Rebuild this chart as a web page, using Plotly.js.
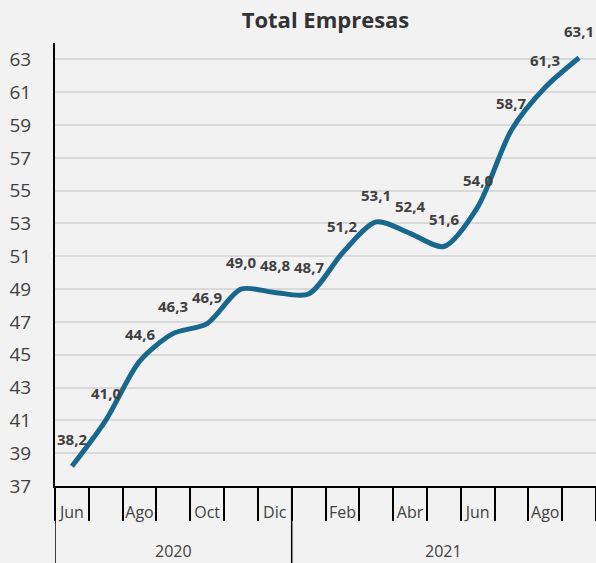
<!DOCTYPE html>
<html>
<head>
<meta charset="utf-8">
<script src="https://cdn.plot.ly/plotly-3.0.1.min.js"></script>
<style>html,body{margin:0;padding:0;background:#f2f2f2;}#chart{width:596px;height:563px;}</style>
</head>
<body>
<div id="chart"></div>
<script>
const months = ["Jun","Jul","Ago","Sep","Oct","Nov","Dic","Ene","Feb","Mar","Abr","May","Jun","Jul","Ago","Sep"];
const years = ["2020","2021"];
const monthsPerYear = [7, 9];
const values = [38.2, 41.0, 44.6, 46.3, 46.9, 49.0, 48.8, 48.7, 51.2, 53.1, 52.4, 51.6, 54.0, 58.7, 61.3, 63.1];
const yTicks = [37,39,41,43,45,47,49,51,53,55,57,59,61,63];

const idx = values.map((_, i) => i);
const fmt = v => v.toFixed(1).replace('.', ',');
const font = '"Open Sans", "Noto Sans", sans-serif';
const textColor = '#404040';

const boundaries = [];
for (let i = 0; i <= months.length; i++) boundaries.push(i - 0.5);

const labelIdx = idx.filter(i => i % 2 === 0);

const annotations = values.map((v, i) => ({
  x: i, y: v, xref: 'x', yref: 'y', text: '<b>' + fmt(v) + '</b>',
  showarrow: false, yshift: 27, font: {family: font, size: 15, color: textColor}
}));

const shapes = [];
let start = -0.5;
years.forEach((yr, k) => {
  const end = start + monthsPerYear[k];
  annotations.push({
    x: (start + end) / 2, y: 0, xref: 'x', yref: 'paper', yshift: -65, yanchor: 'middle',
    text: yr, showarrow: false, font: {family: font, size: 16, color: textColor}
  });
  shapes.push({type: 'line', xref: 'x', yref: 'paper', x0: start, x1: start, y0: 0, y1: -0.2,
    line: {color: '#000', width: 1.5}});
  start = end;
});

const trace = {
  x: idx, y: values, type: 'scatter', mode: 'lines',
  line: {color: '#17688c', width: 5, shape: 'spline', smoothing: 0.8},
  hoverinfo: 'skip'
};
const trace2 = {x: idx, y: values, xaxis: 'x2', type: 'scatter', mode: 'none', hoverinfo: 'skip'};

const layout = {
  width: 596, height: 563,
  paper_bgcolor: '#f2f2f2', plot_bgcolor: '#f2f2f2',
  margin: {l: 55, r: 0, t: 43, b: 77},
  showlegend: false,
  title: {text: '<b>Total Empresas</b>', x: 0.5, xref: 'paper', xanchor: 'center',
    y: 1 - 20 / 563, yref: 'container', yanchor: 'middle',
    font: {family: font, size: 22, color: '#333'}},
  xaxis: {
    range: [-0.5, 15.5], tickmode: 'array', tickvals: boundaries, ticktext: boundaries.map(() => ''),
    ticks: 'outside', ticklen: 33, tickwidth: 2, tickcolor: '#000',
    showgrid: false, zeroline: false, showline: true, linecolor: '#000', linewidth: 2,
    fixedrange: true
  },
  xaxis2: {
    overlaying: 'x', side: 'bottom', anchor: 'y', range: [-0.5, 15.5],
    tickmode: 'array', tickvals: labelIdx, ticktext: labelIdx.map(i => months[i]),
    ticks: '', showgrid: false, zeroline: false, showline: false,
    tickfont: {family: font, size: 16, color: textColor}, ticklabelstandoff: 15
  },
  yaxis: {
    range: [37, 64], tickmode: 'array', tickvals: yTicks, ticktext: yTicks.map(String),
    showgrid: true, gridcolor: '#d9d9d9', gridwidth: 2, zeroline: false,
    showline: true, linecolor: '#000', linewidth: 2, ticks: '',
    tickfont: {family: font, size: 19, color: textColor}, ticklabelstandoff: 18
  },
  annotations: annotations,
  shapes: shapes
};

Plotly.newPlot('chart', [trace, trace2], layout, {displayModeBar: false, staticPlot: true});
</script>
</body>
</html>
